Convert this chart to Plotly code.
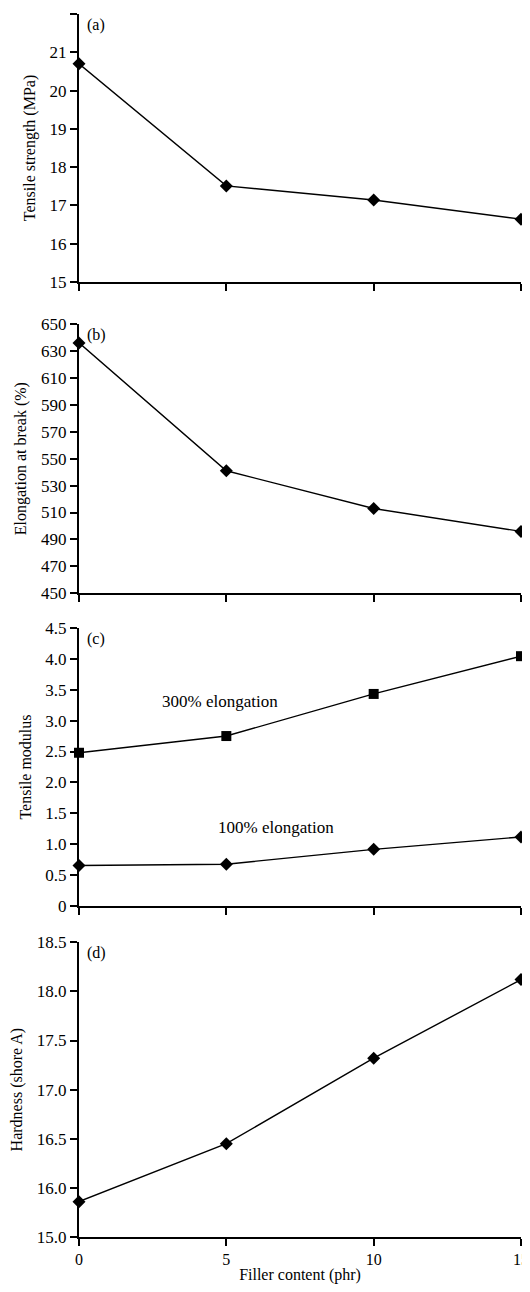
import plotly.graph_objects as go
from plotly.subplots import make_subplots

filler = [0, 5, 10, 15]
tensile_strength = [20.70, 17.51, 17.14, 16.64]
elongation_break = [636, 541, 513, 496]
modulus_300 = [2.48, 2.75, 3.43, 4.04]
modulus_100 = [0.66, 0.68, 0.92, 1.12]
hardness = [15.86, 16.45, 17.32, 18.12]

hard_tickvals = [15.5, 16.0, 16.5, 17.0, 17.5, 18.0, 18.5]
hard_ticktext = ["15.0", "16.0", "16.5", "17.0", "17.5", "18.0", "18.5"]
mod_tickvals = [0, 0.5, 1.0, 1.5, 2.0, 2.5, 3.0, 3.5, 4.0, 4.5]
mod_ticktext = ["0", "0.5", "1.0", "1.5", "2.0", "2.5", "3.0", "3.5", "4.0", "4.5"]

FONT = "Liberation Serif, Times New Roman, serif"
BLACK = "black"

fig = make_subplots(rows=4, cols=1, shared_xaxes=False)

def add_line(y, row, symbol, size):
    fig.add_trace(go.Scatter(x=filler, y=y, mode="lines+markers",
                             line=dict(color=BLACK, width=1.4),
                             marker=dict(symbol=symbol, size=size, color=BLACK),
                             cliponaxis=False, showlegend=False), row=row, col=1)

add_line(tensile_strength, 1, "diamond", 10)
add_line(elongation_break, 2, "diamond", 10)
add_line(modulus_300, 3, "square", 10)
add_line(modulus_100, 3, "diamond", 10)
add_line(hardness, 4, "diamond", 10)

domains = [(0.7809, 1.0), (0.5263, 0.7465), (0.2704, 0.4982), (0.0, 0.2410)]
titles = ["Tensile strength (MPa)", "Elongation at break (%)", "Tensile modulus", "Hardness (shore A)"]
ranges = [[15, 22], [450, 650], [0, 4.5], [15.5, 18.5]]
dticks = [1, 20, 0.5, 0.5]
labels = ["(a)", "(b)", "(c)", "(d)"]

for i in range(4):
    r = i + 1
    xa = dict(range=[0, 15], tickvals=[0, 5, 10, 15], showline=True, linecolor=BLACK,
              linewidth=2, ticks="outside", ticklen=7, tickwidth=2, tickcolor=BLACK,
              showgrid=False, zeroline=False, showticklabels=(r == 4), automargin=False,
              tickfont=dict(family=FONT, size=16, color=BLACK))
    if r == 4:
        xa["title"] = dict(text="Filler content (phr)", font=dict(family=FONT, size=16, color=BLACK), standoff=6)
    fig.update_xaxes(**xa, row=r, col=1)
    ya = dict(range=ranges[i], showline=True, linecolor=BLACK, linewidth=2,
              ticks="outside", ticklen=7, tickwidth=2, tickcolor=BLACK,
              showgrid=False, zeroline=False, automargin=False,
              tickfont=dict(family=FONT, size=17, color=BLACK),
              title=dict(text=titles[i], font=dict(family=FONT, size=16, color=BLACK), standoff=10),
              domain=list(domains[i]))
    if i == 3:
        ya.update(tickvals=hard_tickvals, ticktext=hard_ticktext)
    elif i == 2:
        ya.update(tickvals=mod_tickvals, ticktext=mod_ticktext)
    else:
        ya.update(dtick=dticks[i], tick0=ranges[i][0])
    fig.update_yaxes(**ya, row=r, col=1)
    fig.add_annotation(xref="paper", yref="paper", x=0.0136, y=domains[i][1],
                       text=labels[i], showarrow=False, xanchor="left", yanchor="top",
                       font=dict(family=FONT, size=16, color=BLACK))

fig.add_annotation(xref="x3", yref="y3", x=4.8, y=3.30, text="300% elongation",
                   showarrow=False, font=dict(family=FONT, size=17, color=BLACK))
fig.add_annotation(xref="x3", yref="y3", x=6.7, y=1.28, text="100% elongation",
                   showarrow=False, font=dict(family=FONT, size=17, color=BLACK))

fig.update_layout(width=522, height=1276, margin=dict(l=71, r=9, t=6, b=47),
                  plot_bgcolor="white", paper_bgcolor="white",
                  font=dict(family=FONT, size=16, color=BLACK))

fig.write_html("out.html")
